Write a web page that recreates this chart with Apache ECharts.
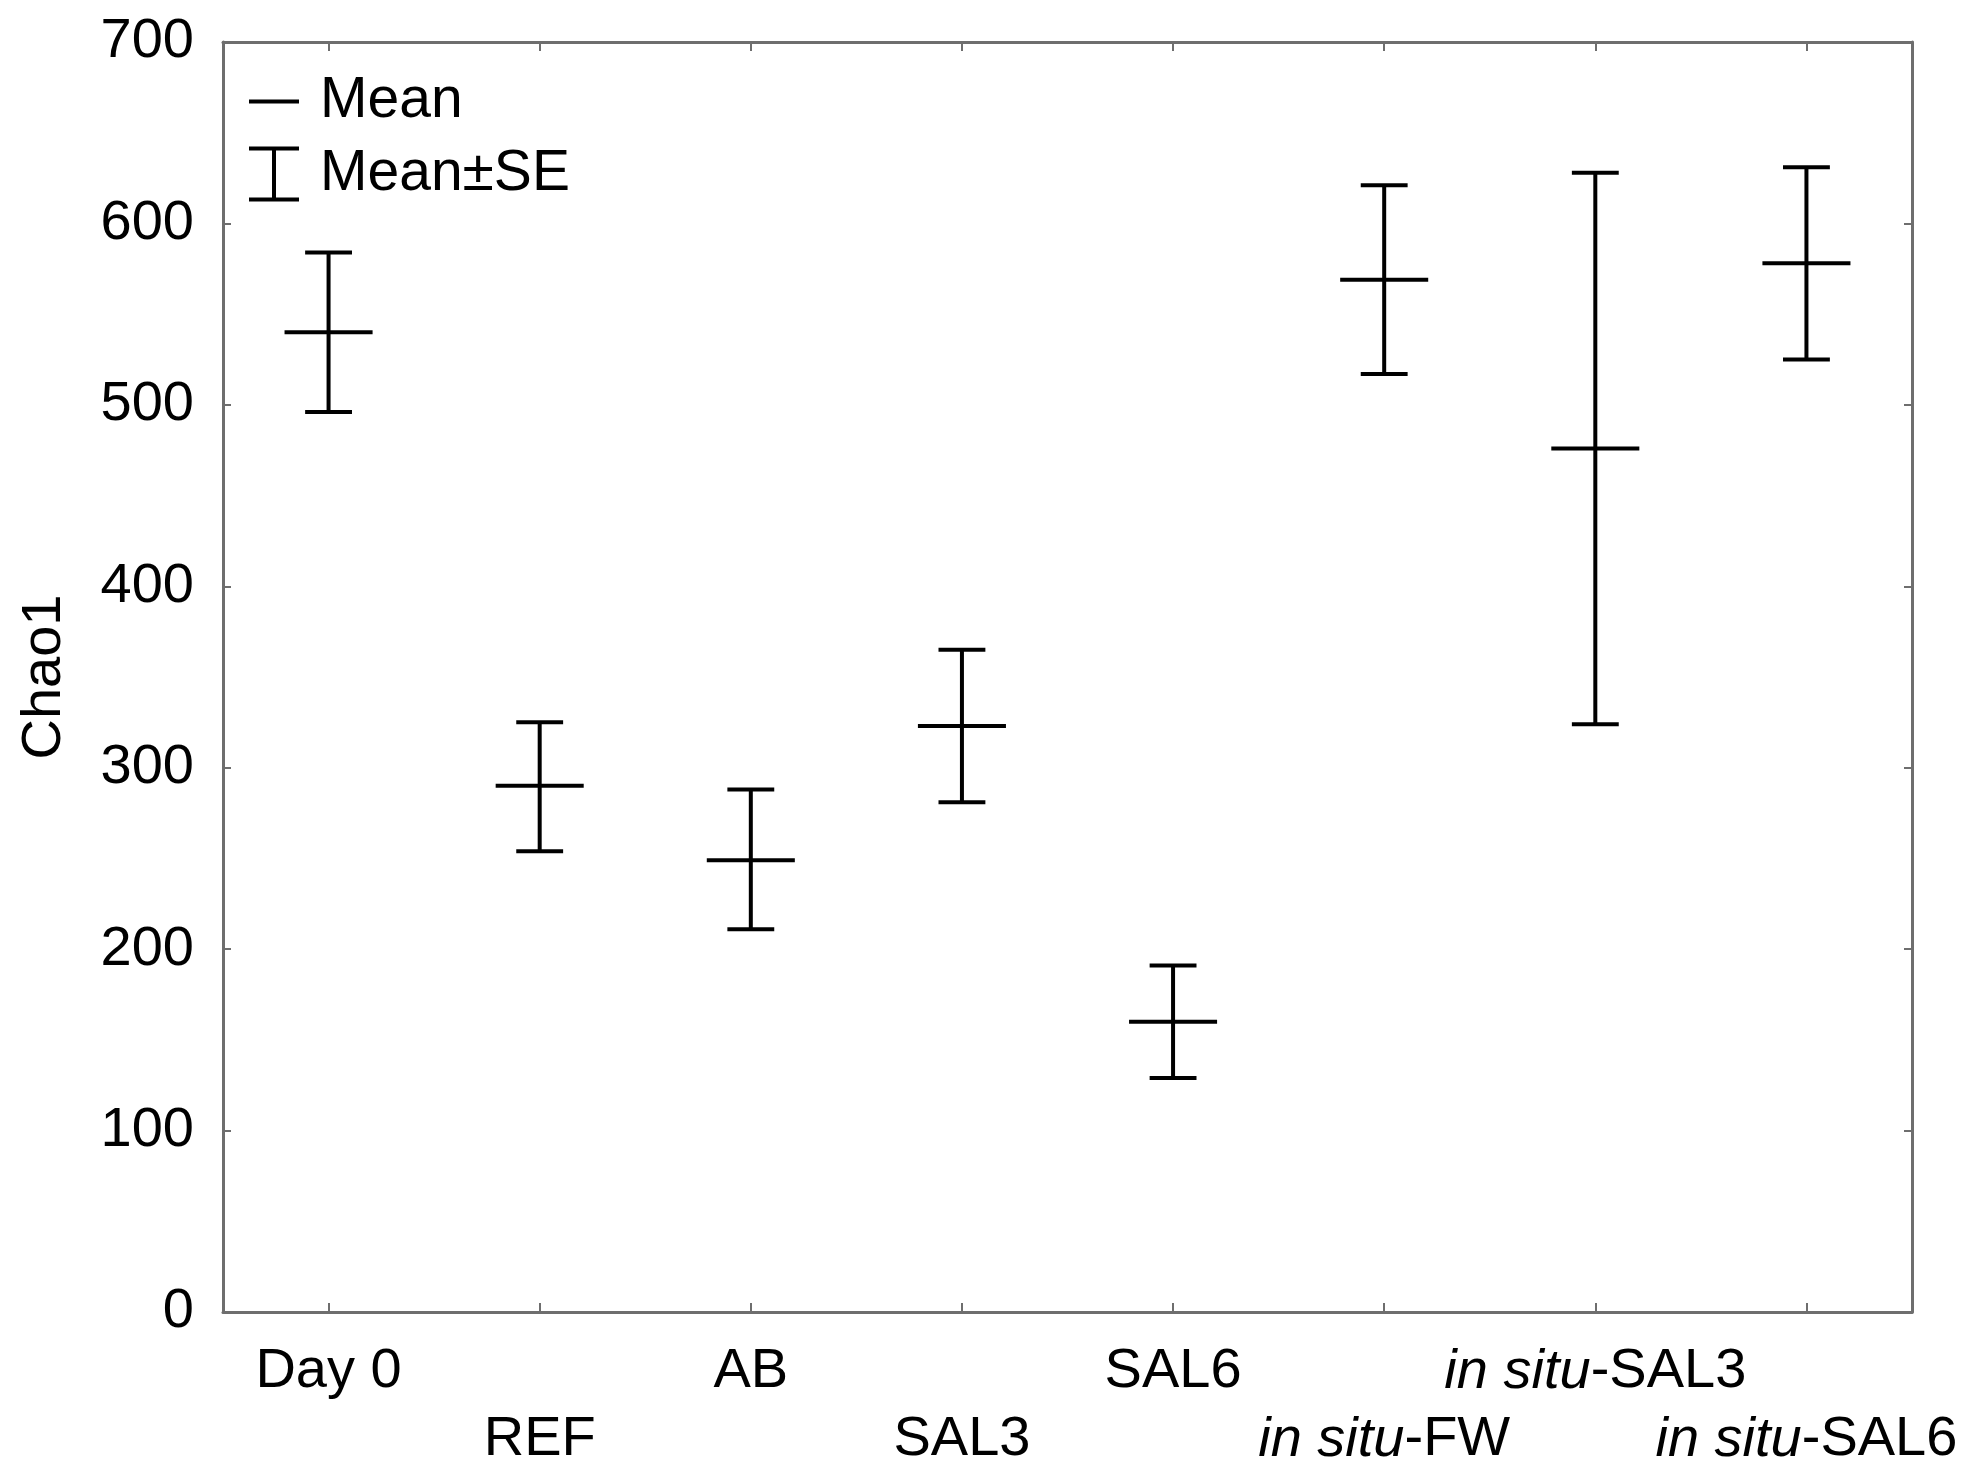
<!DOCTYPE html>
<html>
<head>
<meta charset="utf-8">
<script src="https://cdn.jsdelivr.net/npm/echarts@6/dist/echarts.min.js"></script>
<style>html,body{margin:0;padding:0;background:#fff}#c{width:1983px;height:1475px}</style>
</head>
<body>
<div id="c"></div>
<script>
var categories = ['Day 0', 'REF', 'AB', 'SAL3', 'SAL6', 'in situ-FW', 'in situ-SAL3', 'in situ-SAL6'];
var meanValues = [540, 290, 249, 323, 160, 569, 476, 578];
var lowerSE   = [496, 254, 211, 281, 129, 517, 324, 525];
var upperSE   = [584, 325, 288, 365, 191, 621, 628, 631];
var yTicks = [0, 100, 200, 300, 400, 500, 600, 700];

var FONT = '"Liberation Sans", Arial, sans-serif';
var FS = 56;

function labelText(name) {
  if (name.indexOf('in situ') === 0) {
    return '{i|in situ}{n|' + name.slice(7) + '}';
  }
  return '{n|' + name + '}';
}
var rich = {
  i: { fontFamily: FONT, fontSize: FS, fontStyle: 'italic', color: '#000' },
  n: { fontFamily: FONT, fontSize: FS, color: '#000' }
};

var whiskerData = categories.map(function (c, i) { return [i, lowerSE[i], upperSE[i]]; });
var meanData = categories.map(function (c, i) { return [i, meanValues[i]]; });

var lineStyle = { stroke: '#000', lineWidth: 4 };
var axisColor = '#6e6e6e';

var chart = echarts.init(document.getElementById('c'));
chart.setOption({
  animation: false,
  backgroundColor: '#fff',
  grid: { left: 223, right: 71, top: 42, bottom: 163, containLabel: false },
  legend: {
    left: 244, top: 68, orient: 'vertical', itemGap: 15.5,
    itemWidth: 50, itemHeight: 55,
    selectedMode: false,
    textStyle: { fontFamily: FONT, fontSize: 57, color: '#000', padding: [0, 0, 0, 16] },
    data: [
      { name: 'Mean', icon: 'path://M0,0L0,0M0,25.5h50v4h-50zM50,55L50,55' },
      { name: 'Mean±SE', icon: 'path://M0,0h50v4h-23v47h23v4h-50v-4h23v-47h-23z' }
    ]
  },
  xAxis: [
    {
      type: 'category', data: categories, position: 'bottom', boundaryGap: true,
      axisLine: { show: true, lineStyle: { color: axisColor, width: 3 } },
      axisTick: { show: true, inside: true, alignWithLabel: true, length: 9, lineStyle: { color: axisColor, width: 2 } },
      axisLabel: {
        interval: 0, margin: 32, rich: rich,
        formatter: function (v, idx) { return idx % 2 === 0 ? labelText(v) : ''; }
      },
      splitLine: { show: false }
    },
    {
      type: 'category', data: categories, position: 'bottom', boundaryGap: true,
      axisLine: { show: false }, axisTick: { show: false },
      axisLabel: {
        interval: 0, margin: 100, rich: rich,
        formatter: function (v, idx) { return idx % 2 === 1 ? labelText(v) : ''; }
      },
      splitLine: { show: false }
    },
    {
      type: 'category', data: categories, position: 'top', boundaryGap: true,
      axisLine: { show: true, lineStyle: { color: axisColor, width: 3 } },
      axisTick: { show: true, inside: true, alignWithLabel: true, length: 9, lineStyle: { color: axisColor, width: 2 } },
      axisLabel: { show: false },
      splitLine: { show: false }
    }
  ],
  yAxis: [
    {
      type: 'value', min: yTicks[0], max: yTicks[yTicks.length - 1], interval: 100, position: 'left',
      name: 'Chao1', nameLocation: 'middle', nameGap: 150, nameRotate: 90,
      nameTextStyle: { fontFamily: FONT, fontSize: FS, color: '#000' },
      axisLine: { show: true, lineStyle: { color: axisColor, width: 3 } },
      axisTick: { show: true, inside: true, length: 8, lineStyle: { color: axisColor, width: 2 } },
      axisLabel: { margin: 29, fontFamily: FONT, fontSize: FS, color: '#000' },
      splitLine: { show: false }
    },
    {
      type: 'value', min: yTicks[0], max: yTicks[yTicks.length - 1], interval: 100, position: 'right',
      axisLine: { show: true, lineStyle: { color: axisColor, width: 3 } },
      axisTick: { show: true, inside: true, length: 8, lineStyle: { color: axisColor, width: 2 } },
      axisLabel: { show: false },
      splitLine: { show: false }
    }
  ],
  series: [
    {
      name: 'Mean±SE', type: 'custom', xAxisIndex: 0, yAxisIndex: 0,
      itemStyle: { color: '#000' },
      encode: { x: 0, y: [1, 2] },
      data: whiskerData,
      renderItem: function (params, api) {
        var x = api.value(0);
        var lo = api.coord([x, api.value(1)]);
        var hi = api.coord([x, api.value(2)]);
        var band = api.size([1, 0])[0];
        var cw = band * 0.222 / 2;
        return {
          type: 'group',
          children: [
            { type: 'line', shape: { x1: lo[0], y1: lo[1], x2: hi[0], y2: hi[1] }, style: lineStyle },
            { type: 'line', shape: { x1: hi[0] - cw, y1: hi[1], x2: hi[0] + cw, y2: hi[1] }, style: lineStyle },
            { type: 'line', shape: { x1: lo[0] - cw, y1: lo[1], x2: lo[0] + cw, y2: lo[1] }, style: lineStyle }
          ]
        };
      }
    },
    {
      name: 'Mean', type: 'custom', xAxisIndex: 0, yAxisIndex: 0,
      itemStyle: { color: '#000' },
      encode: { x: 0, y: 1 },
      data: meanData,
      renderItem: function (params, api) {
        var x = api.value(0);
        var p = api.coord([x, api.value(1)]);
        var band = api.size([1, 0])[0];
        var mw = band * 0.417 / 2;
        return { type: 'line', shape: { x1: p[0] - mw, y1: p[1], x2: p[0] + mw, y2: p[1] }, style: lineStyle };
      }
    }
  ]
});
</script>
</body>
</html>
